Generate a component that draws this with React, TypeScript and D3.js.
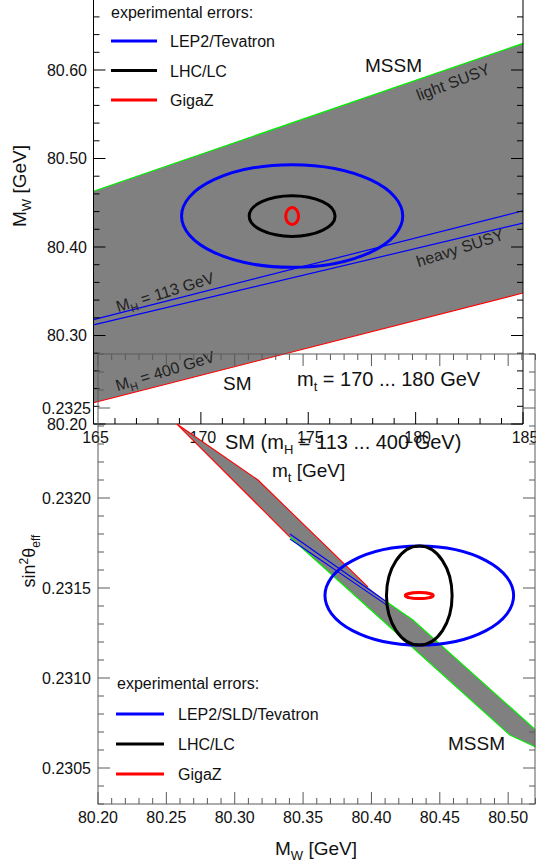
import React from 'react';
import * as d3 from 'd3';

const FONT = '"Liberation Sans", Arial, Helvetica, sans-serif';

// ---- top panel: M_W vs m_t ----
const mtLineEnds = [165, 185];
const mwLightSusy = [80.463, 80.63];
const mwHeavySusy = [80.312, 80.427];
const mwSmLightHiggs = [80.318, 80.441];
const mwSmHeavyHiggs = [80.224, 80.348];
const mtTickLabels = [165, 170, 175, 180, 185];
const mwTickLabels = [80.2, 80.3, 80.4, 80.5, 80.6];

// experimental errors (ellipses)
const errLabelsTop = ['LEP2/Tevatron', 'LHC/LC', 'GigaZ'];
const errLabelsBottom = ['LEP2/SLD/Tevatron', 'LHC/LC', 'GigaZ'];
const centerMt = 174.25;
const centerMw = 80.435;
const centerSin = 0.231458;
const errMtTop = [5.15, 2.0, 0.3];
const errMwTop = [0.058, 0.023, 0.0095];
const errMwBottom = [0.069, 0.024, 0.0102];
const errSinBottom = [0.000275, 0.000275, 0.0000167];

// ---- bottom panel: sin^2 theta_eff vs M_W ----
const bandUpperMw = [80.2577, 80.317, 80.3974, 80.4113, 80.4303, 80.5202];
const bandUpperSin = [0.232411, 0.2321, 0.231506, 0.231422, 0.231322, 0.230711];
const bandLowerMw = [80.2577, 80.3404, 80.4281, 80.5012, 80.5202];
const bandLowerSin = [0.232411, 0.231783, 0.231183, 0.230683, 0.230617];
const wedgeMw = [80.3404, 80.4113];
const wedgeSinA = [0.2318, 0.231422];
const wedgeSinB = [0.231772, 0.231405];
const mwBotTickLabels = [80.2, 80.25, 80.3, 80.35, 80.4, 80.45, 80.5];
const sinTickLabels = [0.2305, 0.231, 0.2315, 0.232, 0.2325];

const ERR_COLORS = ['#0000ff', '#000000', '#ff0000'];
const GREY = '#808080';
const AX2 = '#5a5a5a';

const App = () => {
  const tx = d3.scaleLinear().domain([165, 185]).range([93.5, 523]);
  const ty = d3.scaleLinear().domain([80.2, 80.68]).range([424, -0.8]);
  const bx = d3.scaleLinear().domain([80.2, 80.52]).range([98, 535.5]);
  const by = d3.scaleLinear().domain([0.2303, 0.2328]).range([804, 354]);

  const topLine = (mw: number[]) =>
    d3.line<number>().x((_, i) => tx(mtLineEnds[i])).y((d) => ty(d))(mw) as string;
  const botLine = (xs: number[], ys: number[]) =>
    d3.line<number>().x((d) => bx(d)).y((_, i) => by(ys[i]))(xs) as string;

  const topArea =
    'M' + [
      [tx(165), ty(mwLightSusy[0])],
      [tx(185), ty(mwLightSusy[1])],
      [tx(185), ty(mwSmHeavyHiggs[1])],
      [tx(165), ty(mwSmHeavyHiggs[0])],
    ].map((p) => p.join(',')).join('L') + 'Z';

  // band outline: upper edge left->right, then lower edge right->left
  const bandPts: [number, number][] = [
    ...bandUpperMw.map((m, i) => [bx(m), by(bandUpperSin[i])] as [number, number]),
    ...bandLowerMw.map((m, i) => [bx(m), by(bandLowerSin[i])] as [number, number]).reverse(),
  ];
  const bandPath = 'M' + bandPts.map((p) => p.join(',')).join('L') + 'Z';

  const topMinorY = d3.range(80.2, 80.681, 0.02);
  const topMinorX = d3.range(165, 185.01, 1);
  const botMinorY = d3.range(0.2303, 0.23281, 0.0001);
  const botMinorX = d3.range(80.2, 80.5201, 0.01);
  const isMajor = (v: number, step: number) => Math.abs(v / step - Math.round(v / step)) < 1e-4;

  return (
    <svg width={536} height={866} style={{ position: 'absolute', left: 0, top: 0, background: '#fff' }}
      fontFamily={FONT}>
      <defs>
        <clipPath id="clipTop"><rect x={93.5} y={0} width={429.5} height={424} /></clipPath>
        <clipPath id="clipBot"><rect x={98} y={354} width={437.5} height={450} /></clipPath>
      </defs>

      {/* ---------- top panel ---------- */}
      <g clipPath="url(#clipTop)">
        <path d={topArea} fill={GREY} />
        <path d={topLine(mwLightSusy)} fill="none" stroke="#00ee00" strokeWidth={1.3} />
        <path d={topLine(mwSmHeavyHiggs)} fill="none" stroke="#ff0000" strokeWidth={1.1} />
        <path d={topLine(mwSmLightHiggs)} fill="none" stroke="#0000ff" strokeWidth={1.2} />
        <path d={topLine(mwHeavySusy)} fill="none" stroke="#0000ff" strokeWidth={1.2} />
        {errMtTop.map((e, i) => (
          <ellipse key={i} cx={tx(centerMt)} cy={ty(centerMw)}
            rx={tx(centerMt + e) - tx(centerMt)} ry={ty(centerMw) - ty(centerMw + errMwTop[i])}
            fill="none" stroke={ERR_COLORS[i]} strokeWidth={3} />
        ))}
      </g>
      {/* top frame */}
      <line x1={93.5} x2={93.5} y1={0} y2={424} stroke="#000" />
      <line x1={523} x2={523} y1={0} y2={424} stroke="#000" />
      <line x1={93.5} x2={523} y1={424} y2={424} stroke="#000" />
      {topMinorY.map((v, i) => {
        const l = isMajor(v, 0.1) ? 12 : 6;
        return (
          <g key={i} stroke="#000">
            <line x1={93.5} x2={93.5 + l} y1={ty(v)} y2={ty(v)} />
            <line x1={523} x2={523 - l} y1={ty(v)} y2={ty(v)} />
          </g>
        );
      })}
      {topMinorX.map((v, i) => {
        const l = isMajor(v, 5) ? 12 : 6;
        return <line key={i} x1={tx(v)} x2={tx(v)} y1={424} y2={424 - l} stroke="#000" />;
      })}
      {mwTickLabels.map((v) => (
        <text key={v} x={87} y={ty(v) + 5.7} textAnchor="end" fontSize={16} fill="#111">{v.toFixed(2)}</text>
      ))}
      {mtTickLabels.map((v) => (
        <text key={v} x={tx(v) + 2} y={443} textAnchor="middle" fontSize={16} fill="#111">{v}</text>
      ))}
      <text transform="translate(26,186) rotate(-90)" textAnchor="middle" fontSize={19} fill="#111">
        M<tspan dy={5} fontSize={13}>W</tspan><tspan dy={-5}> [GeV]</tspan>
      </text>
      {/* top legend */}
      <text x={111} y={18} fontSize={16} fill="#111">experimental errors:</text>
      {errLabelsTop.map((l, i) => (
        <g key={l}>
          <line x1={111} x2={157} y1={41 + i * 29.5} y2={41 + i * 29.5} stroke={ERR_COLORS[i]} strokeWidth={3} />
          <text x={170} y={41 + i * 29.5 + 6} fontSize={16} fill="#111">{l}</text>
        </g>
      ))}
      <text x={365} y={72} fontSize={19} fill="#111">MSSM</text>
      <text transform="translate(453,82) rotate(-21)" textAnchor="middle" dy="0.35em" fontSize={16} fill="#222">light SUSY</text>
      <text transform="translate(460,248) rotate(-18)" textAnchor="middle" dy="0.35em" fontSize={16} fill="#222">heavy SUSY</text>
      <text transform="translate(165,292) rotate(-17)" textAnchor="middle" dy="0.35em" fontSize={16} fill="#222">
        M<tspan dy={4} fontSize={11}>H</tspan><tspan dy={-4}> = 113 GeV</tspan>
      </text>
      <text transform="translate(165,371) rotate(-17)" textAnchor="middle" dy="0.35em" fontSize={16} fill="#222">
        M<tspan dy={4} fontSize={11}>H</tspan><tspan dy={-4}> = 400 GeV</tspan>
      </text>
      <text x={223} y={390} fontSize={19} fill="#111">SM</text>
      <text x={297} y={386} fontSize={20} fill="#111">
        m<tspan dy={5} fontSize={13}>t</tspan><tspan dy={-5}> = 170 ... 180 GeV</tspan>
      </text>
      <text x={225} y={449} fontSize={20} fill="#111">
        SM (m<tspan dy={5} fontSize={13}>H</tspan><tspan dy={-5}> = 113 ... 400 GeV)</tspan>
      </text>
      <text x={272} y={477} fontSize={19} fill="#111">
        m<tspan dy={5} fontSize={13}>t</tspan><tspan dy={-5}> [GeV]</tspan>
      </text>

      {/* ---------- bottom panel ---------- */}
      <g clipPath="url(#clipBot)">
        <path d={bandPath} fill={GREY} />
        <path d={botLine(bandUpperMw.slice(0, 3), bandUpperSin.slice(0, 3))} fill="none" stroke="#ff0000" strokeWidth={1.1} />
        <path d={botLine(bandLowerMw.slice(0, 2), bandLowerSin.slice(0, 2))} fill="none" stroke="#ff0000" strokeWidth={1.1} />
        <path d={botLine(bandUpperMw.slice(3), bandUpperSin.slice(3))} fill="none" stroke="#00ee00" strokeWidth={1.2} />
        <path d={botLine(bandLowerMw.slice(1), bandLowerSin.slice(1))} fill="none" stroke="#00ee00" strokeWidth={1.2} />
        <path d={botLine(wedgeMw, wedgeSinA)} fill="none" stroke="#0000ff" strokeWidth={1.1} />
        <path d={botLine(wedgeMw, wedgeSinB)} fill="none" stroke="#0000ff" strokeWidth={1.1} />
        {errMwBottom.map((e, i) => (
          <ellipse key={i} cx={bx(centerMw)} cy={by(centerSin)}
            rx={bx(centerMw + e) - bx(centerMw)} ry={by(centerSin) - by(centerSin + errSinBottom[i])}
            fill="none" stroke={ERR_COLORS[i]} strokeWidth={3} />
        ))}
      </g>
      {/* bottom frame */}
      <rect x={98} y={354} width={437} height={450} fill="none" stroke={AX2} />
      {botMinorY.map((v, i) => {
        const l = isMajor(v, 0.0005) ? 12 : 6;
        return (
          <g key={i} stroke={AX2}>
            <line x1={98} x2={98 + l} y1={by(v)} y2={by(v)} />
            <line x1={535} x2={535 - l} y1={by(v)} y2={by(v)} />
          </g>
        );
      })}
      {botMinorX.map((v, i) => {
        const l = isMajor(v, 0.05) ? 12 : 6;
        return (
          <g key={i} stroke={AX2}>
            <line x1={bx(v)} x2={bx(v)} y1={804} y2={804 - l} />
            <line x1={bx(v)} x2={bx(v)} y1={354} y2={354 + l} />
          </g>
        );
      })}
      {sinTickLabels.map((v) => (
        <text key={v} x={91} y={by(v) + 5.7} textAnchor="end" fontSize={16} fill="#111">{v.toFixed(4)}</text>
      ))}
      {mwBotTickLabels.map((v) => (
        <text key={v} x={bx(v)} y={823} textAnchor="middle" fontSize={16} fill="#111">{v.toFixed(2)}</text>
      ))}
      <text x={275} y={855} fontSize={19} fill="#111">
        M<tspan dy={5} fontSize={13}>W</tspan><tspan dy={-5}> [GeV]</tspan>
      </text>
      <text transform="translate(35,561) rotate(-90)" textAnchor="middle" fontSize={18} fill="#111">
        sin<tspan dy={-7} fontSize={12}>2</tspan><tspan dy={7}>θ</tspan><tspan dy={5} fontSize={12}>eff</tspan>
      </text>
      {/* bottom legend */}
      <text x={117} y={689} fontSize={16} fill="#111">experimental errors:</text>
      {errLabelsBottom.map((l, i) => (
        <g key={l}>
          <line x1={116} x2={164} y1={714 + i * 30} y2={714 + i * 30} stroke={ERR_COLORS[i]} strokeWidth={3} />
          <text x={178} y={714 + i * 30 + 6} fontSize={16} fill="#111">{l}</text>
        </g>
      ))}
      <text x={448} y={750} fontSize={19} fill="#111">MSSM</text>
    </svg>
  );
};

export default App;
